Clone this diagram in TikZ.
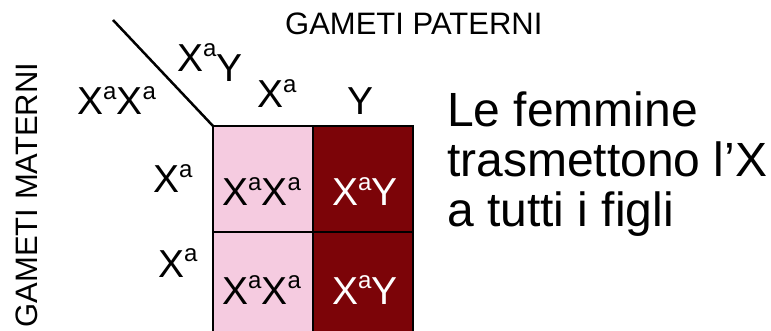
\documentclass[tikz,border=0pt]{standalone}
\usepackage{fontspec}
\setmainfont{Liberation Sans}
\usetikzlibrary{positioning}
\definecolor{cellpink}{RGB}{245,203,224}
\definecolor{cellred}{RGB}{124,4,8}
\newcommand{\xa}{X\raisebox{15.2pt}{\fontsize{24}{24}\selectfont a}}
\tikzset{
  gene/.style={font=\fontsize{39}{39}\selectfont, inner sep=0pt, anchor=base west},
  genewhite/.style={gene, text=white},
  heading/.style={font=\fontsize{31}{31}\selectfont, inner sep=0pt},
  cell/.style={draw=black, line width=2.5pt, outer sep=0pt, inner sep=0pt,
               minimum width=100pt, minimum height=106pt},
  cellf/.style={cell, fill=cellpink},
  cellm/.style={cell, fill=cellred},
}

\begin{document}
\begin{tikzpicture}[x=1pt, y=-1pt]
\useasboundingbox[fill=white] (0,0) rectangle (771,331);
\clip (0,0) rectangle (771,331);
% punnett square
\node[cellf, anchor=north west] (c11) at (213,126) {};
\node[cellm, right=0pt of c11] (c12) {};
\node[cellf, below=0pt of c11] (c21) {};
\node[cellm, below=0pt of c12] (c22) {};
\coordinate (slash) at (113,20);
\draw[line width=2.5pt] (slash) -- (c11.north west);
% gametes
\node[gene] (pair) at (177,72) {\xa\raisebox{-10pt}{Y}};
\node[gene] (mom) at (77,115) {\xa\xa};
\node[gene] (col1) at (257,108) {\xa};
\node[gene] (col2) at (347,115) {Y};
\node[gene] (row1) at (153,193) {\xa};
\node[gene] (row2) at (158,277) {\xa};
% offspring
\node[gene] (g11) at (222,206) {\xa\xa};
\node[genewhite] (g12) at (332,206) {\xa Y};
\node[gene] (g21) at (222,304) {\xa\xa};
\node[genewhite] (g22) at (332,304) {\xa Y};
% titles
\node[heading, anchor=base west] (pat) at (285,35) {GAMETI PATERNI};
\node[heading, anchor=base, rotate=90] (mat) at (37,195) {GAMETI MATERNI};
\node[font=\fontsize{48}{50}\selectfont, align=left, inner sep=0pt,
      anchor=north west] (note) at (447,92)
  {Le femmine\\trasmettono l’X\\a tutti i figli};
\end{tikzpicture}
\end{document}
